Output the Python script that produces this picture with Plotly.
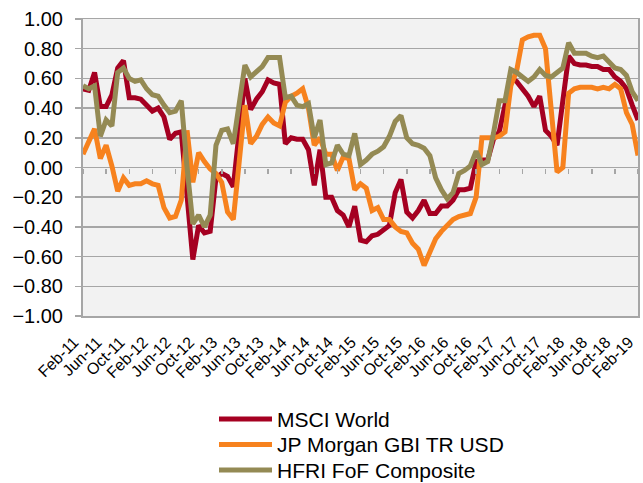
import pandas as pd
import plotly.graph_objects as go

# Monthly categories Feb-11 .. Feb-19
months = list(pd.date_range("2011-02-01", periods=97, freq="MS").strftime("%b-%y"))
tick_labels = months[::4]

msci_world = [
    0.53, 0.52, 0.64, 0.41, 0.41, 0.49, 0.67, 0.72, 0.47, 0.47,
    0.46, 0.42, 0.38, 0.40, 0.34, 0.19, 0.23, 0.24, -0.18, -0.62,
    -0.39, -0.44, -0.43, -0.07, -0.04, -0.06, -0.13, 0.22, 0.60, 0.39,
    0.46, 0.51, 0.59, 0.57, 0.56, 0.16, 0.20, 0.19, 0.19, 0.12,
    -0.12, 0.12, -0.20, -0.20, -0.29, -0.32, -0.40, -0.26, -0.49, -0.50,
    -0.46, -0.45, -0.42, -0.39, -0.17, -0.08, -0.30, -0.34, -0.29, -0.22,
    -0.31, -0.31, -0.26, -0.26, -0.22, -0.15, -0.15, -0.14, 0.04, 0.05,
    0.05, 0.19, 0.24, 0.44, 0.60, 0.58, 0.53, 0.48, 0.41, 0.48,
    0.25, 0.21, 0.15, 0.45, 0.75, 0.70, 0.69, 0.69, 0.68, 0.68,
    0.66, 0.66, 0.61, 0.58, 0.53, 0.42, 0.32,
]

jpm_gbi = [
    0.09, 0.17, 0.26, 0.06, 0.15, 0.01, -0.16, -0.07, -0.12, -0.11,
    -0.11, -0.09, -0.11, -0.12, -0.27, -0.34, -0.33, -0.22, 0.25, -0.10,
    0.10, 0.04, -0.01, -0.04, -0.10, -0.30, -0.35, 0.03, 0.42, 0.16,
    0.21, 0.29, 0.34, 0.30, 0.28, 0.44, 0.48, 0.50, 0.53, 0.40,
    0.15, 0.20, 0.09, 0.09, -0.02, 0.07, 0.06, -0.15, -0.11, -0.14,
    -0.29, -0.27, -0.35, -0.35, -0.40, -0.43, -0.44, -0.51, -0.55, -0.66,
    -0.56, -0.48, -0.43, -0.39, -0.35, -0.33, -0.32, -0.31, -0.20, 0.20,
    0.20, 0.20, 0.21, 0.24, 0.55, 0.65, 0.86, 0.88, 0.89, 0.89,
    0.80, 0.35, -0.03, 0.00, 0.50, 0.53, 0.54, 0.54, 0.54, 0.53,
    0.54, 0.53, 0.56, 0.53, 0.37, 0.29, 0.08,
]

hfri_fof = [
    0.55, 0.53, 0.55, 0.21, 0.32, 0.28, 0.64, 0.67, 0.60, 0.58,
    0.59, 0.53, 0.49, 0.48, 0.42, 0.37, 0.38, 0.45, 0.00, -0.38,
    -0.32, -0.40, -0.32, 0.15, 0.25, 0.26, 0.16, 0.42, 0.69, 0.61,
    0.65, 0.68, 0.74, 0.74, 0.74, 0.47, 0.48, 0.42, 0.41, 0.43,
    0.20, 0.32, 0.02, 0.03, 0.15, 0.09, 0.08, 0.23, 0.02, 0.05,
    0.09, 0.11, 0.14, 0.21, 0.31, 0.35, 0.20, 0.16, 0.15, 0.13,
    0.08, -0.07, -0.15, -0.21, -0.17, -0.04, -0.02, 0.01, 0.11, 0.02,
    0.04, 0.23, 0.45, 0.45, 0.66, 0.64, 0.61, 0.58, 0.61, 0.66,
    0.62, 0.61, 0.64, 0.67, 0.84, 0.77, 0.77, 0.77, 0.75, 0.74,
    0.75, 0.71, 0.67, 0.66, 0.62, 0.51, 0.45,
]

series_names = ["MSCI World", "JP Morgan GBI TR USD", "HFRI FoF Composite"]
series_colors = ["#a50021", "#f7821e", "#948a54"]

FONT = "Liberation Sans, Arial, sans-serif"
GRID = "#a6a6a6"

W, H = 643, 483
ML, MR, MT, MB = 83, 5, 19, 167
PW, PH = W - ML - MR, H - MT - MB


def px_x(p):
    return (p - ML) / PW


def px_y(p):
    return (H - MB - p) / PH


fig = go.Figure()
for name, vals, col in zip(series_names, [msci_world, jpm_gbi, hfri_fof], series_colors):
    fig.add_trace(go.Scatter(
        x=months, y=vals, name=name, mode="lines",
        line=dict(color=col, width=5),
    ))

# helper trace for the tick marks along the zero line
fig.add_trace(go.Scatter(
    x=months, y=[None] * len(months), xaxis="x2", showlegend=False,
    hoverinfo="skip", mode="lines",
))

# manual legend below the plot
shapes = []
annotations = []
for k, (name, col) in enumerate(zip(series_names, series_colors)):
    yc = 419 + k * 25.5
    shapes.append(dict(
        type="line", xref="paper", yref="paper",
        x0=px_x(219), x1=px_x(272), y0=px_y(yc), y1=px_y(yc),
        line=dict(color=col, width=5),
    ))
    annotations.append(dict(
        xref="paper", yref="paper", x=px_x(275), y=px_y(yc),
        xanchor="left", yanchor="middle", showarrow=False,
        text=name, font=dict(size=21, family=FONT, color="#000000"),
    ))

fig.update_layout(
    width=W, height=H,
    margin=dict(l=ML, r=MR, t=MT, b=MB, autoexpand=False),
    paper_bgcolor="white",
    plot_bgcolor="#f2f2f2",
    font=dict(family=FONT, color="#000000"),
    showlegend=False,
    hovermode=False,
    shapes=shapes,
    annotations=annotations,
    xaxis=dict(
        type="category", range=[0, len(months) - 1], automargin=False,
        tickvals=tick_labels, ticktext=tick_labels,
        tickangle=-45, tickfont=dict(size=16, family=FONT),
        ticks="", showgrid=False,
        showline=True, linecolor=GRID, linewidth=1.5, mirror=True,
        ticklabelshift=-9, ticklabelstandoff=9,
    ),
    xaxis2=dict(
        type="category", range=[0, len(months) - 1], overlaying="x",
        anchor="free", position=0.5, side="bottom", automargin=False,
        tickvals=tick_labels, showticklabels=False,
        ticks="outside", ticklen=5, tickwidth=1.5, tickcolor=GRID,
        showline=False, showgrid=False, zeroline=False,
    ),
    yaxis=dict(
        range=[-1, 1], dtick=0.2, tick0=-1, tickformat=".2f", automargin=False,
        tickfont=dict(size=20, family=FONT),
        showgrid=True, gridcolor=GRID, gridwidth=1.5,
        zeroline=False,
        showline=True, linecolor=GRID, linewidth=2, mirror=True,
        ticks="outside", ticklen=6, tickwidth=1.5, tickcolor=GRID,
        ticklabelstandoff=8,
    ),
)

fig.write_html(
    "out.html",
    config={"displayModeBar": False, "staticPlot": True},
    post_script="document.body.style.margin='0';document.body.style.overflow='hidden';",
)
